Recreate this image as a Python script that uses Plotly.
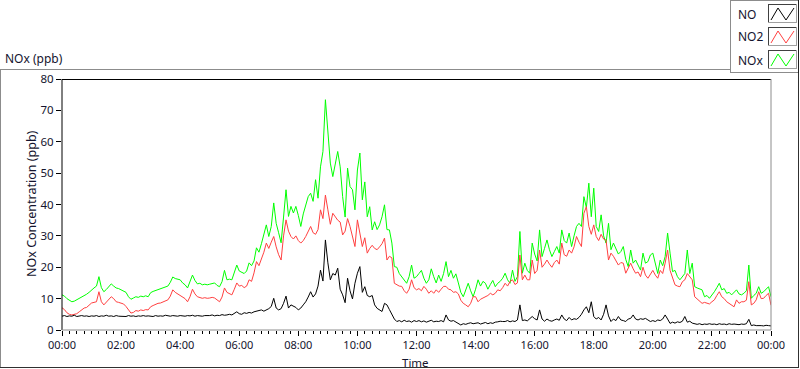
import plotly.graph_objects as go

# ---------------- data (5-minute samples, 00:00 -> 24:00) ----------------
minutes = list(range(0, 1445, 5))

no_ppb = [
    4.4, 4.6, 4.3, 4.5, 4.4, 4.7, 4.3, 4.5, 4.6, 4.4, 4.5, 4.3,
    4.5, 4.4, 4.6, 4.3, 4.5, 4.4, 4.7, 4.4, 4.5, 4.3, 4.6, 4.4,
    4.4, 4.5, 4.3, 4.6, 4.4, 4.5, 4.3, 4.5, 4.4, 4.6, 4.4, 4.5,
    4.5, 4.3, 4.6, 4.4, 4.5, 4.4, 4.7, 4.5, 4.4, 4.6, 4.5, 4.4,
    4.6, 4.5, 4.4, 4.6, 4.5, 4.7, 4.4, 4.6, 4.5, 4.4, 4.6, 4.5,
    4.6, 4.8, 4.5, 4.7, 4.6, 4.9, 4.7, 4.8, 5.0, 4.8, 5.2, 5.8,
    5.2, 5.0, 5.5, 5.3, 5.6, 5.4, 5.8, 6.0, 6.2, 6.4, 6.0, 6.4,
    6.8, 7.5, 10.1, 7.0, 6.4, 6.8, 8.5, 10.8, 7.0, 8.0, 7.5, 7.2,
    6.4, 7.0, 8.0, 9.0, 10.5, 12.2, 10.5, 11.5, 14.0, 19.1, 15.6, 28.7,
    21.4, 16.0, 18.0, 17.5, 19.7, 13.0, 11.2, 8.7, 16.5, 12.5, 9.9, 14.9,
    18.1, 20.2, 12.0, 13.8, 11.0, 10.6, 11.0, 8.0, 6.9, 6.5, 5.9, 8.5,
    8.0, 6.5, 4.8, 3.5, 2.7, 3.0, 2.6, 3.1, 2.7, 2.9, 2.5, 3.0,
    2.7, 3.0, 2.6, 2.9, 2.5, 2.8, 3.1, 2.6, 2.8, 2.7, 3.0, 2.6,
    4.8, 3.2, 2.8, 3.0, 2.6, 2.2, 1.6, 2.0, 1.8, 2.1, 2.3, 2.0,
    2.1, 2.3, 1.9, 2.2, 2.4, 2.0, 2.3, 2.1, 2.5, 2.6, 2.8, 2.7,
    2.7, 3.0, 2.6, 2.9, 2.7, 3.2, 8.0, 3.0, 3.2, 2.9, 3.5, 4.3,
    3.6, 3.2, 6.4, 3.5, 2.8, 3.5, 3.0, 2.8, 3.2, 3.5, 3.1, 4.8,
    3.5, 3.0, 4.0, 3.2, 3.6, 3.4, 4.0, 5.0, 6.4, 7.4, 5.5, 9.0,
    4.3, 3.5, 4.0, 3.2, 5.0, 8.0, 4.5, 2.7, 3.5, 3.0, 4.3, 3.2,
    3.0, 2.7, 3.5, 3.7, 4.8, 3.5, 3.2, 3.6, 3.4, 3.7, 3.2, 2.7,
    3.0, 2.7, 3.2, 3.0, 3.5, 4.8, 3.5, 2.1, 2.5, 2.2, 2.6, 2.4,
    2.8, 4.3, 2.5, 2.8, 2.2, 1.9, 1.8, 2.0, 1.7, 1.9, 1.8, 2.0,
    1.8, 1.9, 1.7, 2.0, 1.8, 1.9, 1.7, 2.0, 1.8, 1.9, 1.8, 1.7,
    1.9, 1.8, 2.0, 3.4, 1.4, 1.6, 1.4, 1.5, 1.4, 1.3, 1.5, 1.4,
    1.3,
]

no2_ppb = [
    7.1, 6.5, 5.5, 5.0, 4.8, 5.0, 5.2, 5.8, 6.5, 7.0, 7.2, 7.8,
    8.6, 8.8, 9.0, 12.2, 9.0, 8.0, 8.8, 9.8, 10.6, 10.0, 9.0, 8.8,
    8.5, 8.3, 7.5, 6.4, 5.4, 5.6, 6.2, 6.0, 6.4, 6.2, 6.5, 6.4,
    7.4, 7.8, 8.2, 8.5, 8.6, 9.0, 9.4, 9.6, 10.8, 12.8, 12.0, 11.5,
    11.2, 10.5, 10.0, 9.0, 10.6, 13.0, 11.5, 10.6, 10.4, 10.1, 10.3, 10.1,
    10.2, 10.4, 10.2, 9.6, 9.0, 10.5, 13.4, 12.0, 11.5, 11.2, 13.0, 15.0,
    14.0, 14.2, 13.5, 14.0, 16.0, 15.5, 18.2, 21.8, 20.5, 22.5, 24.8, 27.7,
    26.0, 28.0, 29.8, 26.5, 24.0, 22.3, 30.0, 35.1, 31.5, 29.8, 29.0, 30.0,
    28.5, 27.7, 28.5, 29.8, 31.5, 33.0, 31.0, 30.5, 32.0, 38.3, 35.5, 43.0,
    38.3, 33.7, 37.2, 36.0, 35.0, 34.4, 30.3, 31.5, 35.5, 33.0, 30.0, 26.6,
    35.1, 31.0, 26.6, 29.4, 24.5, 26.0, 27.0, 26.0, 25.6, 26.5, 27.5, 29.3,
    22.3, 23.5, 23.0, 14.9, 14.5, 14.0, 13.9, 12.5, 11.7, 13.0, 16.0, 13.5,
    12.8, 13.2, 12.5, 13.9, 13.0, 11.7, 12.5, 11.7, 12.8, 12.0, 13.0, 13.9,
    13.9, 13.0, 12.8, 12.0, 12.2, 11.5, 9.5, 8.5, 8.0, 7.4, 8.5, 10.6,
    10.6, 9.0, 9.8, 10.2, 10.6, 11.0, 11.7, 11.2, 11.7, 12.8, 12.5, 13.5,
    14.9, 14.0, 15.5, 16.0, 14.5, 15.0, 23.9, 16.0, 17.5, 16.0, 16.0, 22.3,
    18.0, 19.0, 25.5, 20.0, 21.0, 22.3, 21.0, 20.0, 21.5, 22.3, 21.0, 27.7,
    24.0, 23.5, 25.5, 24.5, 26.5, 29.8, 28.0, 26.6, 37.2, 39.3, 33.0, 30.5,
    33.5, 29.8, 28.5, 30.5, 29.0, 28.6, 22.3, 24.5, 23.5, 22.0, 20.7, 21.5,
    21.3, 18.1, 19.5, 21.3, 19.5, 18.1, 18.5, 17.0, 20.0, 17.5, 16.5, 18.0,
    19.0, 17.5, 16.5, 19.0, 18.0, 21.3, 25.5, 19.0, 17.0, 14.4, 14.0, 13.8,
    15.4, 16.0, 18.0, 17.0, 16.0, 10.6, 9.9, 9.5, 8.5, 8.8, 8.5, 8.3,
    9.0, 9.6, 11.0, 12.2, 10.6, 10.0, 9.0, 8.5, 8.0, 7.4, 9.6, 8.5,
    9.0, 9.0, 9.5, 15.4, 8.0, 8.5, 9.6, 12.2, 10.0, 10.1, 11.0, 11.7,
    7.9,
]

nox_ppb = [
    11.2, 10.8, 10.0, 9.6, 9.0, 9.2, 9.6, 10.2, 10.6, 10.8, 11.4, 12.0,
    12.8, 13.4, 14.0, 17.0, 13.5, 12.2, 12.9, 13.8, 14.7, 14.0, 13.4, 13.2,
    12.8, 12.6, 12.0, 10.6, 9.8, 10.2, 10.6, 10.4, 10.8, 10.6, 10.9, 10.6,
    11.9, 12.3, 12.6, 13.0, 13.1, 13.6, 13.8, 14.0, 15.2, 16.9, 16.4, 16.2,
    16.0, 15.0, 14.4, 13.4, 15.2, 17.5, 15.8, 14.7, 14.9, 14.4, 14.6, 14.4,
    14.6, 14.8, 15.0, 14.2, 13.8, 15.4, 19.0, 16.0, 16.2, 16.0, 18.5, 20.7,
    18.8, 18.4, 18.0, 18.8, 21.4, 20.5, 22.0, 26.2, 24.8, 27.5, 30.9, 33.5,
    29.8, 33.0, 40.5, 34.0, 31.0, 27.8, 36.0, 44.7, 36.2, 39.4, 37.3, 39.4,
    36.5, 33.0, 37.0, 39.9, 42.5, 43.6, 41.0, 47.9, 42.0, 52.0, 56.9, 73.4,
    63.8, 53.2, 48.9, 53.0, 56.9, 52.0, 42.5, 36.0, 51.6, 45.7, 44.7, 38.3,
    51.0, 56.4, 41.5, 47.2, 36.1, 39.3, 31.9, 34.5, 32.0, 33.5, 36.1, 39.9,
    32.0, 31.9, 27.7, 20.2, 20.0, 18.0, 17.0, 16.0, 14.9, 17.0, 20.7, 16.5,
    17.0, 18.0, 19.0, 16.5, 14.9, 16.0, 19.5, 17.0, 15.0, 17.5, 15.5, 18.0,
    21.8, 17.0, 19.0, 16.5, 17.9, 15.0, 12.0, 10.6, 13.0, 14.9, 12.5, 10.6,
    13.0, 16.0, 14.0, 15.5, 14.9, 13.0, 14.5, 15.8, 13.8, 14.9, 15.5, 16.5,
    18.1, 16.0, 14.9, 19.1, 15.5, 17.0, 31.4, 18.1, 21.3, 19.0, 18.1, 27.7,
    24.2, 22.0, 31.9, 23.4, 26.0, 28.7, 25.6, 23.4, 25.0, 26.6, 24.5, 31.9,
    28.5, 27.7, 30.9, 26.6, 30.0, 33.0, 34.0, 33.0, 42.5, 39.0, 46.8, 36.1,
    45.2, 33.0, 31.4, 36.7, 30.0, 27.7, 34.0, 25.6, 27.7, 26.0, 24.2, 25.0,
    26.6, 22.5, 20.2, 25.5, 21.3, 22.3, 20.5, 19.1, 24.5, 21.3, 21.8, 23.9,
    24.5, 21.5, 18.0, 22.3, 20.5, 23.4, 30.9, 24.5, 18.6, 19.0, 17.0, 16.0,
    17.0, 18.0, 25.5, 18.0, 21.3, 13.8, 13.4, 13.0, 12.8, 10.6, 11.0, 10.1,
    11.0, 12.2, 13.5, 14.9, 12.8, 13.2, 11.7, 12.0, 11.2, 12.0, 12.8, 11.5,
    11.2, 11.7, 12.5, 20.7, 10.1, 11.0, 11.7, 13.8, 11.7, 12.2, 13.0, 13.8,
    10.6,
]

series_names = ["NO", "NO2", "NOx"]
series_colors = ["#000000", "#ff4040", "#00ff00"]

x_tick_vals = list(range(0, 1441, 120))
x_tick_text = ["00:00", "02:00", "04:00", "06:00", "08:00", "10:00", "12:00",
               "14:00", "16:00", "18:00", "20:00", "22:00", "00:00"]
y_tick_vals = [0, 10, 20, 30, 40, 50, 60, 70, 80]

assert len(no_ppb) == len(minutes) == len(no2_ppb) == len(nox_ppb)

# ---------------- layout geometry (pixels) ----------------
W, H = 800, 369
PL, PR, PT, PB = 62, 771, 79, 330   # plot area edges
FONT = "Noto Sans"
TXT = "#14142e"


def px(x):
    return (x - PL) / (PR - PL)


def py(y):
    return (PB - y) / (PB - PT)


fig = go.Figure()
data_by_name = {"NO": no_ppb, "NO2": no2_ppb, "NOx": nox_ppb}
# draw NOx first, then NO2, then NO on top
for name in ["NOx", "NO2", "NO"]:
    i = series_names.index(name)
    fig.add_trace(go.Scatter(
        x=minutes, y=data_by_name[name], mode="lines", name=name,
        line=dict(color=series_colors[i], width=1), showlegend=False,
        hoverinfo="skip",
    ))

shapes = []


def line(x0, y0, x1, y1, color, width=1):
    shapes.append(dict(type="line", xref="paper", yref="paper",
                       x0=px(x0), y0=py(y0), x1=px(x1), y1=py(y1),
                       line=dict(color=color, width=width), layer="above"))


# plot frame: left/top black, bottom/right gray
line(62, 79.5, 771, 79.5, "#000000")
line(62, 79, 62, 330, "#000000")
line(62, 330, 771, 330, "#8c8c8c")
line(771, 79, 771, 330, "#8c8c8c")

# outer panel frame
line(0, 69.5, 730, 69.5, "#8c8c8c")
line(0.5, 69, 0.5, 368, "#8c8c8c")
line(0, 367.5, 799, 367.5, "#303030")
line(798.5, 72, 798.5, 368, "#303030")

# legend panel
line(730.5, 0, 730.5, 72, "#8c8c8c")
line(730, 72.5, 799, 72.5, "#8c8c8c")
line(730, 0.5, 799, 0.5, "#8c8c8c")
line(798.5, 0, 798.5, 73, "#202020")

annotations = []
box_tops = [4, 27, 50]
for k, name in enumerate(series_names):
    t = box_tops[k]
    # swatch box
    line(768, t + 0.5, 797, t + 0.5, "#404040")
    line(768.5, t, 768.5, t + 19, "#404040")
    line(768, t + 18.5, 797, t + 18.5, "#a0a0a0")
    line(796.5, t, 796.5, t + 19, "#a0a0a0")
    pts = [(771, t + 16), (778, t + 4), (786, t + 16), (794, t + 4)]
    path = "M " + " L ".join(f"{px(a)},{py(b)}" for a, b in pts)
    shapes.append(dict(type="path", xref="paper", yref="paper", path=path,
                       line=dict(color=series_colors[k], width=1), layer="above"))
    annotations.append(dict(text=name, xref="paper", yref="paper",
                            x=px(736), y=py(t + 10), xanchor="left", yanchor="middle",
                            showarrow=False, font=dict(family=FONT, size=12, color=TXT)))

annotations.append(dict(text="NOx (ppb)", xref="paper", yref="paper",
                        x=px(3), y=py(58), xanchor="left", yanchor="middle",
                        showarrow=False, font=dict(family=FONT, size=12, color=TXT)))
annotations.append(dict(text="Time", xref="paper", yref="paper",
                        x=px(415), y=py(362), xanchor="center", yanchor="middle",
                        showarrow=False, font=dict(family=FONT, size=11.5, color=TXT)))
annotations.append(dict(text="NOx Concentration (ppb)", xref="paper", yref="paper",
                        x=px(31), y=py(204), xanchor="center", yanchor="middle",
                        textangle=-90, showarrow=False,
                        font=dict(family=FONT, size=12.5, color=TXT)))

fig.update_layout(
    width=W, height=H, autosize=False,
    margin=dict(l=PL, r=W - PR, t=PT, b=H - PB, pad=0, autoexpand=False),
    paper_bgcolor="white", plot_bgcolor="white",
    font=dict(family=FONT, size=12, color=TXT),
    shapes=shapes, annotations=annotations, hovermode=False,
    xaxis=dict(
        range=[0, 1440], tickmode="array", tickvals=x_tick_vals, ticktext=x_tick_text,
        ticks="outside", ticklen=5, tickcolor="#000000", showgrid=False,
        zeroline=False, showline=False, automargin=False,
        minor=dict(dtick=15, tick0=0, ticks="outside", ticklen=3, tickcolor="#000000",
                   showgrid=False),
        tickfont=dict(family=FONT, size=11, color=TXT),
    ),
    yaxis=dict(
        range=[0, 80], tickmode="array", tickvals=y_tick_vals,
        ticks="outside", ticklen=5, tickcolor="#000000", showgrid=False,
        zeroline=False, showline=False, automargin=False,
        tickfont=dict(family=FONT, size=11.5, color=TXT),
    ),
)

fig.write_html(
    "out.html",
    config={"displayModeBar": False, "staticPlot": True},
    post_script="document.body.style.margin='0px';document.body.style.overflow='hidden';",
)
